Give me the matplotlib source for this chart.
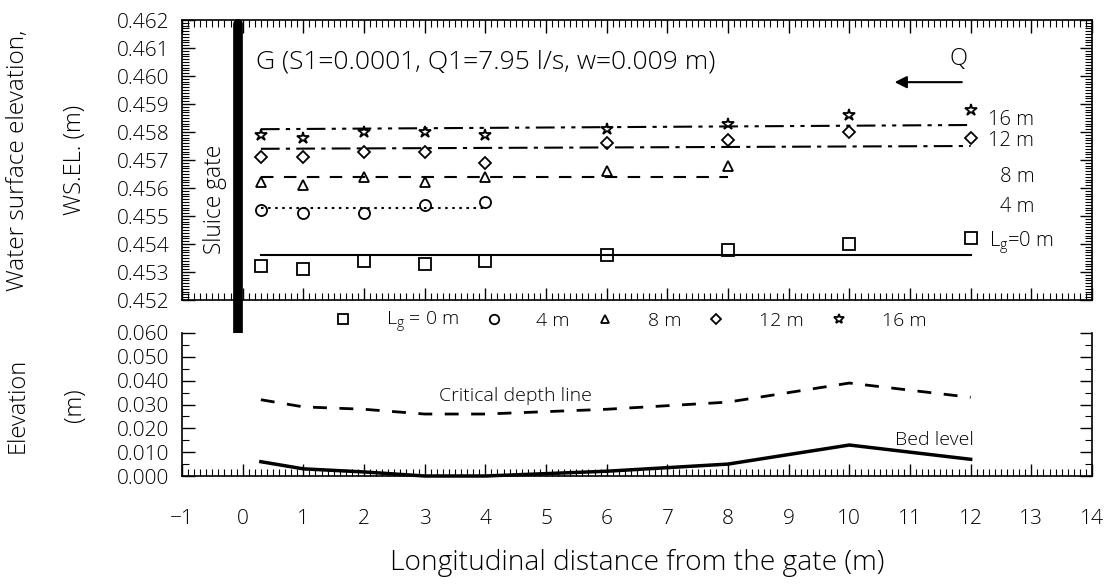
import matplotlib
matplotlib.use("Agg")
import matplotlib.pyplot as plt
from matplotlib.ticker import MultipleLocator, FormatStrFormatter

plt.rcParams['font.family'] = ['Open Sans', 'DejaVu Sans']
plt.rcParams['font.weight'] = 'light'
plt.rcParams['mathtext.default'] = 'regular'

# ---------------- data ----------------
x_pts = [0.3, 1, 2, 3, 4, 6, 8, 10, 12]
ws_lg0 = [0.4532, 0.4531, 0.4534, 0.4533, 0.4534, 0.4536, 0.4538, 0.4540, 0.4542]
x_lg4 = [0.3, 1, 2, 3, 4]
ws_lg4 = [0.4552, 0.4551, 0.4551, 0.4554, 0.4555]
x_lg8 = [0.3, 1, 2, 3, 4, 6, 8]
ws_lg8 = [0.4562, 0.4561, 0.4564, 0.4562, 0.4564, 0.4566, 0.4568]
ws_lg12 = [0.4571, 0.4571, 0.4573, 0.4573, 0.4569, 0.4576, 0.4577, 0.4580, 0.4578]
ws_lg16 = [0.4579, 0.4578, 0.4580, 0.4580, 0.4579, 0.4581, 0.4583, 0.4586, 0.4588]

# mean water-surface lines (start / end)
line_lg0_x, line_lg0_y = [0.3, 12], [0.4536, 0.4536]
line_lg4_x, line_lg4_y = [0.3, 4], [0.4553, 0.4553]
line_lg8_x, line_lg8_y = [0.3, 8], [0.4564, 0.4564]
line_lg12_x, line_lg12_y = [0.3, 12], [0.4574, 0.4575]
line_lg16_x, line_lg16_y = [0.3, 12], [0.4581, 0.45825]

critical_depth = [0.032, 0.029, 0.028, 0.026, 0.026, 0.028, 0.031, 0.039, 0.033]
bed_level = [0.006, 0.003, 0.0017, 0.0, 0.0, 0.002, 0.005, 0.013, 0.007]

legend_labels = [r"L$_{g}$ = 0 m", "4 m", "8 m", "12 m", "16 m"]
right_labels = ["16 m", "12 m", "8 m", "4 m"]
right_label_y = [0.45842, 0.45768, 0.45641, 0.45532]
lg0_label_y = 0.45404

gate_x = -0.08
title_text = "G (S1=0.0001, Q1=7.95 l/s, w=0.009 m)"

# ---------------- figure ----------------
W, H = 1116, 587
fig = plt.figure(figsize=(W / 100, H / 100), dpi=100)
ax1 = fig.add_axes([182 / W, 1 - 300 / H, 910 / W, 280 / H])
ax2 = fig.add_axes([182 / W, 1 - 476 / H, 910 / W, 143 / H])
renderer = fig.canvas.get_renderer()


def fit(txt, target_px, vertical=False):
    """scale a text's font size so that its extent matches target_px"""
    bb = txt.get_window_extent(renderer)
    cur = bb.height if vertical else bb.width
    txt.set_fontsize(txt.get_fontsize() * target_px / cur)
    return txt


mk = dict(mfc='white', mec='black', mew=1.3, ls='none', color='black')
h0, = ax1.plot(x_pts, ws_lg0, marker='s', ms=8, **mk)
h4, = ax1.plot(x_lg4, ws_lg4, marker='o', ms=8, **mk)
h8, = ax1.plot(x_lg8, ws_lg8, marker='^', ms=7.5, **mk)
h12, = ax1.plot(x_pts, ws_lg12, marker='D', ms=6, **mk)
h16, = ax1.plot(x_pts, ws_lg16, marker='*', ms=9, **mk)

lk = dict(color='black', lw=1.5)
ax1.plot(line_lg0_x, line_lg0_y, ls='-', **lk)
ax1.plot(line_lg4_x, line_lg4_y, ls=(0, (1.2, 2.2)), **lk)
ax1.plot(line_lg8_x, line_lg8_y, ls=(0, (6, 5)), **lk)
ax1.plot(line_lg12_x, line_lg12_y, ls=(0, (9, 3, 2, 3)), **lk)
ax1.plot(line_lg16_x, line_lg16_y, ls=(0, (9, 3, 2, 3, 2, 3)), **lk)

ax1.set_xlim(-1, 14)
ax1.set_ylim(0.452, 0.462)
ax2.set_xlim(-1, 14)
ax2.set_ylim(0.0, 0.060)

# sluice gate bar
ax1.plot([gate_x, gate_x], [0.46185, 0.45030], color='black', lw=7,
         solid_capstyle='round', clip_on=False, zorder=5)
fit(ax1.text(-0.45, 0.4556, "Sluice gate", rotation=90, ha='center',
             va='center', fontsize=15), 110, vertical=True)

fit(ax1.text(0.22, 0.4605, title_text, ha='left', va='center', fontsize=16), 460)
ax1.text(11.8, 0.4606, "Q", ha='center', va='center', fontsize=17)
ax1.annotate("", xy=(10.7, 0.45978), xytext=(11.9, 0.45978),
             arrowprops=dict(arrowstyle='-|>', color='black', lw=1.5,
                             mutation_scale=18))

for lab, yv in zip(right_labels, right_label_y):
    ax1.text(13.05, yv, lab, ha='right', va='center', fontsize=14.5)
ax1.text(12.3, lg0_label_y, r"L$_{g}$=0 m", ha='left', va='center', fontsize=14.5)

leg = ax1.legend([h0, h4, h8, h12, h16], legend_labels, loc='center',
                 bbox_to_anchor=(0.492, -0.079), ncol=5, frameon=False,
                 fontsize=14, handlelength=1.0, handletextpad=1.7,
                 columnspacing=1.3, markerscale=0.85)

# bottom panel
ax2.plot(x_pts, critical_depth, color='black', lw=2, ls=(0, (5, 4.5)))
ax2.plot(x_pts, bed_level, color='black', lw=2.5, clip_on=False)
ax2.text(4.5, 0.0335, "Critical depth line", ha='center', va='center', fontsize=14)
ax2.text(11.4, 0.0152, "Bed level", ha='center', va='center', fontsize=14)

# ticks
ax1.yaxis.set_major_locator(MultipleLocator(0.001))
ax1.yaxis.set_minor_locator(MultipleLocator(0.0001))
ax1.yaxis.set_major_formatter(FormatStrFormatter('%.3f'))
ax1.xaxis.set_major_locator(MultipleLocator(1))
ax1.xaxis.set_minor_locator(MultipleLocator(0.1))
ax1.tick_params(which='both', direction='in', top=True, bottom=True,
                left=True, right=True, labelbottom=False, labelsize=15, pad=9)
ax1.tick_params(which='major', length=9, width=1)
ax1.tick_params(which='minor', length=5, width=0.8)

ax2.yaxis.set_major_locator(MultipleLocator(0.01))
ax2.yaxis.set_minor_locator(MultipleLocator(0.005))
ax2.yaxis.set_major_formatter(FormatStrFormatter('%.3f'))
ax2.xaxis.set_major_locator(MultipleLocator(1))
ax2.xaxis.set_minor_locator(MultipleLocator(0.1))
ax2.tick_params(which='both', direction='in', top=False, bottom=True,
                left=True, right=True, labelsize=15)
ax2.tick_params(axis='y', pad=9)
ax2.tick_params(axis='x', pad=24)
ax2.tick_params(which='major', length=9, width=1)
ax2.tick_params(which='minor', length=5, width=0.8)
ax2.spines['top'].set_visible(False)
for a in (ax1, ax2):
    for s in a.spines.values():
        s.set_linewidth(1.2)

fit(fig.text(18 / W, 1 - 160 / H, "Water surface elevation,", rotation=90,
             ha='center', va='center', fontsize=17), 262, vertical=True)
fig.text(75 / W, 1 - 160 / H, "WS.EL. (m)", rotation=90,
         ha='center', va='center', fontsize=17)
fig.text(18 / W, 1 - 405 / H, "Elevation", rotation=90,
         ha='center', va='center', fontsize=17)
fig.text(75 / W, 1 - 405 / H, "(m)", rotation=90,
         ha='center', va='center', fontsize=17)
fit(fig.text(637 / W, 1 - 563 / H, "Longitudinal distance from the gate (m)",
             ha='center', va='center', fontsize=17), 495)

fig.savefig("out.png", dpi=100)
